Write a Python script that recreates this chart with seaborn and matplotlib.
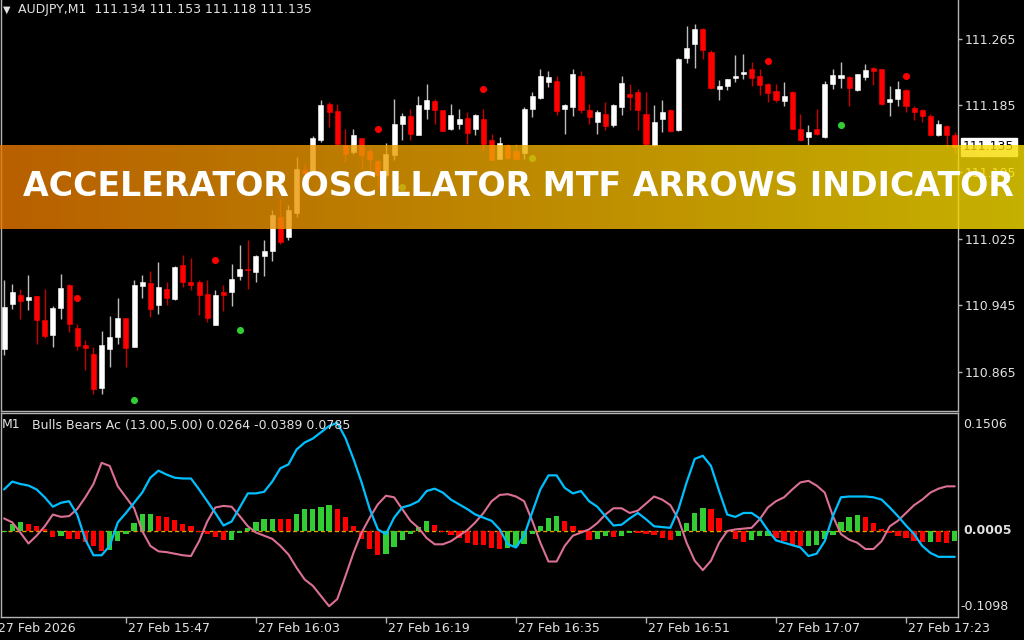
import numpy as np
import pandas as pd
import matplotlib
matplotlib.use('Agg')
import matplotlib.pyplot as plt
import matplotlib.transforms as mtransforms
from matplotlib.colors import LinearSegmentedColormap
import seaborn as sns

# ---- price candles (AUDJPY M1, bar 0 = 15:32) ----
opens = [110.893, 110.947, 110.958, 110.952, 110.956, 110.927, 110.909, 110.942, 110.969, 110.918,
         110.898, 110.887, 110.846, 110.893, 110.907, 110.930, 110.895, 110.968, 110.972, 110.945,
         110.965, 110.953, 110.993, 110.973, 110.973, 110.959, 110.921, 110.961, 110.961, 110.980,
         110.989, 110.985, 111.004, 111.010, 111.051, 111.027, 111.056, 111.107, 111.106, 111.143,
         111.186, 111.178, 111.137, 111.129, 111.146, 111.130, 111.118, 111.101, 111.125, 111.163,
         111.172, 111.149, 111.181, 111.190, 111.179, 111.156, 111.163, 111.170, 111.156, 111.168,
         111.143, 111.121, 111.137, 111.130, 111.128, 111.180, 111.194, 111.213, 111.214, 111.180,
         111.183, 111.220, 111.179, 111.165, 111.175, 111.161, 111.183, 111.199, 111.201, 111.175,
         111.137, 111.168, 111.179, 111.155, 111.242, 111.258, 111.277, 111.249, 111.204, 111.208,
         111.218, 111.223, 111.228, 111.220, 111.211, 111.202, 111.190, 111.201, 111.156, 111.147,
         111.157, 111.147, 111.210, 111.218, 111.219, 111.203, 111.219, 111.230, 111.228, 111.189,
         111.193, 111.203, 111.182, 111.179, 111.172, 111.149, 111.160, 111.149]
highs = [110.975, 110.971, 110.965, 110.982, 110.956, 110.965, 110.944, 110.983, 110.971, 110.923,
         110.903, 110.895, 110.914, 110.932, 110.954, 110.930, 110.975, 110.982, 110.986, 110.997,
         110.973, 110.992, 111.005, 111.002, 110.975, 110.976, 110.963, 110.970, 110.995, 111.017,
         111.023, 111.005, 111.023, 111.059, 111.073, 111.065, 111.123, 111.115, 111.148, 111.191,
         111.189, 111.187, 111.157, 111.156, 111.146, 111.133, 111.119, 111.140, 111.192, 111.176,
         111.180, 111.196, 111.210, 111.193, 111.179, 111.187, 111.181, 111.177, 111.175, 111.180,
         111.151, 111.147, 111.139, 111.139, 111.183, 111.201, 111.229, 111.226, 111.220, 111.187,
         111.228, 111.226, 111.187, 111.179, 111.189, 111.186, 111.220, 111.210, 111.204, 111.201,
         111.185, 111.191, 111.181, 111.242, 111.280, 111.283, 111.278, 111.251, 111.215, 111.217,
         111.245, 111.247, 111.237, 111.229, 111.212, 111.210, 111.213, 111.202, 111.175, 111.161,
         111.181, 111.214, 111.228, 111.237, 111.220, 111.223, 111.235, 111.231, 111.229, 111.208,
         111.214, 111.204, 111.184, 111.180, 111.175, 111.167, 111.161, 111.153]
lows = [110.885, 110.941, 110.929, 110.939, 110.899, 110.906, 110.895, 110.929, 110.913, 110.891,
        110.868, 110.839, 110.839, 110.871, 110.899, 110.871, 110.895, 110.954, 110.931, 110.935,
        110.945, 110.951, 110.967, 110.964, 110.933, 110.925, 110.921, 110.938, 110.944, 110.975,
        110.965, 110.973, 110.980, 110.998, 111.019, 111.023, 111.051, 111.101, 111.105, 111.141,
        111.159, 111.137, 111.117, 111.127, 111.109, 111.109, 111.087, 111.099, 111.119, 111.143,
        111.143, 111.149, 111.169, 111.163, 111.154, 111.155, 111.157, 111.139, 111.149, 111.131,
        111.119, 111.120, 111.120, 111.120, 111.121, 111.171, 111.193, 111.207, 111.173, 111.151,
        111.172, 111.176, 111.163, 111.151, 111.155, 111.159, 111.173, 111.179, 111.155, 111.137,
        111.136, 111.153, 111.153, 111.154, 111.236, 111.230, 111.241, 111.205, 111.191, 111.203,
        111.213, 111.217, 111.208, 111.197, 111.189, 111.189, 111.184, 111.156, 111.142, 111.137,
        111.149, 111.146, 111.205, 111.206, 111.184, 111.202, 111.215, 111.209, 111.185, 111.172,
        111.184, 111.177, 111.167, 111.165, 111.148, 111.148, 111.135, 111.127]
closes = [110.943, 110.961, 110.950, 110.955, 110.928, 110.908, 110.942, 110.966, 110.923, 110.896,
          110.894, 110.845, 110.898, 110.907, 110.930, 110.894, 110.970, 110.973, 110.941, 110.967,
          110.954, 110.991, 110.973, 110.969, 110.958, 110.930, 110.958, 110.958, 110.977, 110.989,
          110.987, 111.004, 111.010, 111.053, 111.021, 111.059, 111.108, 111.104, 111.146, 111.185,
          111.177, 111.139, 111.127, 111.149, 111.125, 111.121, 111.101, 111.127, 111.162, 111.172,
          111.151, 111.185, 111.191, 111.179, 111.154, 111.173, 111.169, 111.152, 111.173, 111.139,
          111.119, 111.140, 111.122, 111.121, 111.180, 111.196, 111.220, 111.219, 111.178, 111.185,
          111.222, 111.179, 111.171, 111.177, 111.160, 111.185, 111.212, 111.195, 111.179, 111.139,
          111.165, 111.177, 111.154, 111.241, 111.254, 111.277, 111.251, 111.206, 111.208, 111.216,
          111.220, 111.225, 111.218, 111.209, 111.200, 111.191, 111.196, 111.157, 111.143, 111.153,
          111.150, 111.210, 111.221, 111.221, 111.206, 111.222, 111.227, 111.226, 111.186, 111.193,
          111.204, 111.184, 111.177, 111.172, 111.149, 111.162, 111.149, 111.135]

# arrow dots of the indicator
red_dot_bar = [9, 26, 46, 59, 94, 111]
red_dot_price = [110.954, 110.999, 111.156, 111.204, 111.238, 111.220]
green_dot_bar = [16, 29, 49, 65, 103]
green_dot_price = [110.831, 110.915, 111.087, 111.122, 111.161]

# ---- lower window: Bulls Bears Ac ----
ac_hist = [-0.001, 0.0085, 0.0115, 0.0094, 0.0064, 0.003, -0.0072, -0.0064, -0.0098, -0.0106,
           -0.014, -0.019, -0.0256, -0.0243, -0.0128, -0.0034, 0.0098, 0.022, 0.0222, 0.019,
           0.018, 0.014, 0.0085, 0.0064, -0.001, -0.0043, -0.0072, -0.0115, -0.011, -0.003,
           0.0043, 0.0115, 0.015, 0.0158, 0.0155, 0.0152, 0.0213, 0.0277, 0.0285, 0.031,
           0.0336, 0.0277, 0.018, 0.0064, -0.0106, -0.0234, -0.031, -0.030, -0.0205, -0.0115,
           -0.0043, 0.005, 0.0128, 0.0077, -0.001, -0.0055, -0.0085, -0.0158, -0.018, -0.0182,
           -0.022, -0.0234, -0.0213, -0.019, -0.017, -0.0043, 0.0064, 0.016, 0.019, 0.0128,
           0.0064, 0.001, -0.0115, -0.0098, -0.0064, -0.0072, -0.0064, -0.002, -0.0025, -0.0043,
           -0.005, -0.0085, -0.0115, -0.0064, 0.0106, 0.0234, 0.0298, 0.0285, 0.017, -0.0005,
           -0.0098, -0.014, -0.0115, -0.0064, -0.006, -0.0085, -0.0128, -0.0175, -0.0195, -0.019,
           -0.0175, -0.0106, -0.005, 0.0115, 0.018, 0.021, 0.018, 0.0106, 0.002, -0.002,
           -0.0064, -0.0085, -0.0128, -0.0145, -0.014, -0.0142, -0.0158, -0.0128]
bulls_line = [0.053, 0.063, 0.060, 0.058, 0.053, 0.043, 0.031, 0.036, 0.038, 0.021,
              -0.011, -0.031, -0.031, -0.019, 0.011, 0.023, 0.036, 0.049, 0.068, 0.077,
              0.072, 0.068, 0.067, 0.067, 0.053, 0.038, 0.023, 0.007, 0.012, 0.030,
              0.048, 0.048, 0.050, 0.063, 0.080, 0.085, 0.104, 0.113, 0.118, 0.126,
              0.134, 0.138, 0.119, 0.092, 0.062, 0.028, 0.002, -0.004, 0.017, 0.030,
              0.033, 0.038, 0.051, 0.054, 0.049, 0.040, 0.034, 0.028, 0.021, 0.017,
              0.013, 0.002, -0.017, -0.021, -0.006, 0.024, 0.053, 0.071, 0.071, 0.055,
              0.048, 0.051, 0.038, 0.031, 0.019, 0.007, 0.008, 0.016, 0.023, 0.015,
              0.006, 0.005, 0.004, 0.028, 0.062, 0.092, 0.096, 0.083, 0.051, 0.021,
              0.018, 0.023, 0.023, 0.016, 0.001, -0.012, -0.015, -0.018, -0.021, -0.032,
              -0.029, -0.013, 0.019, 0.043, 0.044, 0.044, 0.044, 0.043, 0.040, 0.030,
              0.019, 0.007, -0.004, -0.019, -0.028, -0.033, -0.033, -0.033]
bears_line = [0.016, 0.011, -0.002, -0.016, -0.006, 0.006, 0.021, 0.018, 0.019, 0.028,
              0.043, 0.060, 0.087, 0.083, 0.057, 0.043, 0.029, 0.000, -0.019, -0.026,
              -0.027, -0.029, -0.031, -0.032, -0.013, 0.012, 0.030, 0.032, 0.031, 0.019,
              0.006, -0.002, -0.006, -0.010, -0.019, -0.030, -0.047, -0.062, -0.070, -0.083,
              -0.096, -0.087, -0.058, -0.028, -0.002, 0.017, 0.034, 0.045, 0.043, 0.028,
              0.013, 0.004, -0.009, -0.017, -0.017, -0.013, -0.006, 0.001, 0.011, 0.023,
              0.038, 0.046, 0.047, 0.044, 0.038, 0.013, -0.015, -0.039, -0.039, -0.019,
              -0.006, -0.002, 0.002, 0.010, 0.021, 0.029, 0.029, 0.023, 0.026, 0.035,
              0.044, 0.040, 0.033, 0.015, -0.015, -0.038, -0.050, -0.038, -0.015, 0.000,
              0.002, 0.003, 0.004, 0.015, 0.030, 0.038, 0.043, 0.053, 0.062, 0.064,
              0.058, 0.049, 0.019, -0.004, -0.011, -0.015, -0.023, -0.023, -0.013, 0.006,
              0.013, 0.023, 0.033, 0.040, 0.049, 0.054, 0.057, 0.057]

price_ticks = [110.865, 110.945, 111.025, 111.105, 111.185, 111.265]
time_bars = [-1, 15, 31, 47, 63, 79, 95, 111]
time_labels = ['27 Feb 2026', '27 Feb 15:47', '27 Feb 16:03', '27 Feb 16:19',
               '27 Feb 16:35', '27 Feb 16:51', '27 Feb 17:07', '27 Feb 17:23']
osc_labels = ['0.1506', '0.0005', '-0.1098']
last_price = 111.135
title = 'ACCELERATOR OSCILLATOR MTF ARROWS INDICATOR'

sns.set_style('dark', {'axes.facecolor': 'black', 'figure.facecolor': 'black',
                       'axes.edgecolor': '#b4b4b4'})
plt.rcParams['font.family'] = ['DejaVu Sans']

txt = '#e2e2e2'
W, H = 1024, 640

fig = plt.figure(figsize=(10.24, 6.4), dpi=100, facecolor='black')
ax1 = fig.add_axes([1 / W, 1 - 411 / H, 957 / W, 411 / H], facecolor='black')
ax2 = fig.add_axes([1 / W, 1 - 617 / H, 957 / W, 204 / H], facecolor='black')

# candles
cdl = pd.DataFrame({'open': opens, 'high': highs, 'low': lows, 'close': closes})
cdl['bar'] = np.arange(len(cdl))
bull = (cdl['close'] >= cdl['open']).values
body_lo = cdl[['open', 'close']].min(axis=1)
body_h = (cdl['close'] - cdl['open']).abs().clip(lower=0.0011)
ax1.vlines(cdl['bar'], cdl['low'], cdl['high'],
           colors=np.where(bull, '#bdbdbd', '#c80000'), linewidth=1, zorder=2)
ax1.bar(cdl['bar'], body_h, bottom=body_lo, width=0.62,
        color=np.where(bull, 'white', '#ff0000'), edgecolor=np.where(bull, 'white', '#ff0000'),
        linewidth=0.4, zorder=3)
ax1.scatter(red_dot_bar, red_dot_price, s=26, color='#ff0000', linewidths=0, zorder=4)
ax1.scatter(green_dot_bar, green_dot_price, s=26, color='#32cd32', linewidths=0, zorder=4)

xlim = (-0.38, 117.4)
ax1.set_xlim(*xlim)
ax1.set_ylim(110.8183, 111.3112)
ax1.set_xticks([])
ax1.yaxis.tick_right()
ax1.set_yticks(price_ticks)
ax1.set_yticklabels([f'{v:.3f}' for v in price_ticks])
ax1.tick_params(axis='y', right=True, left=False, length=3, width=1, color='#b4b4b4',
                labelcolor=txt, labelsize=9, pad=2)
for s in ['left', 'right', 'bottom']:
    ax1.spines[s].set_color('#b4b4b4')
    ax1.spines[s].set_linewidth(1)
ax1.spines['top'].set_visible(False)

blend1 = mtransforms.blended_transform_factory(ax1.transAxes, ax1.transData)
ax1.annotate(f'{last_price:.3f}', xy=(1, last_price), xycoords=blend1, xytext=(3.6, 0),
             textcoords='offset points', va='center', ha='left', fontsize=9, color='black',
             bbox=dict(boxstyle='square,pad=0.18', fc='white', ec='white'),
             annotation_clip=False, zorder=6)

# oscillator window
bars = pd.DataFrame({'bar': np.arange(len(ac_hist)), 'ac': ac_hist,
                     'bulls': bulls_line, 'bears': bears_line})
bars['dir'] = np.where(bars['ac'].diff().fillna(1) > 0, 'up', 'down')

ax2.axhline(0, color='#e0a000', linewidth=1, linestyle=(0, (3, 2)), zorder=0.5)
sns.barplot(data=bars, x='bar', y='ac', hue='dir', palette={'up': '#32cd32', 'down': '#ff0000'},
            dodge=False, native_scale=True, width=0.65, saturation=1, errorbar=None,
            legend=False, linewidth=0, edgecolor='none', ax=ax2)
sns.lineplot(data=bars, x='bar', y='bears', color='#db7093', linewidth=1.5, ax=ax2, zorder=3)
sns.lineplot(data=bars, x='bar', y='bulls', color='#00bfff', linewidth=1.6, ax=ax2, zorder=4)

ax2.set_xlim(*xlim)
ax2.set_ylim(-0.1098, 0.1506)
ax2.set_xlabel('')
ax2.set_ylabel('')
ax2.set_yticks([])
ax2.set_xticks(time_bars[1:])
ax2.set_xticklabels([])
ax2.tick_params(axis='x', bottom=True, length=4, width=1, color='#b4b4b4')
for s in ['left', 'right', 'bottom', 'top']:
    ax2.spines[s].set_color('#b4b4b4')
    ax2.spines[s].set_linewidth(1)

for b, lab in zip(time_bars, time_labels):
    ax2.annotate(lab, xy=(b, 0), xycoords=('data', 'axes fraction'), xytext=(1.5, -8),
                 textcoords='offset points', ha='left', va='center', fontsize=9, color=txt,
                 annotation_clip=False)

ax2.annotate(osc_labels[0], xy=(1, 1), xycoords='axes fraction', xytext=(3.6, -8),
             textcoords='offset points', ha='left', va='center', fontsize=9, color=txt)
ax2.annotate(osc_labels[1], xy=(1, 0.0005), xycoords=('axes fraction', 'data'), xytext=(3.6, 0),
             textcoords='offset points', ha='left', va='center', fontsize=9, color=txt,
             fontweight='bold')
ax2.annotate(osc_labels[2], xy=(1, 0), xycoords='axes fraction', xytext=(1.5, 7.2),
             textcoords='offset points', ha='left', va='center', fontsize=9, color=txt)

# window captions
fig.text(3 / W, 1 - 10 / H, '\u25bc', fontsize=7, color=txt, va='center', ha='left')
fig.text(18 / W, 1 - 10 / H, 'AUDJPY,M1  111.134 111.153 111.118 111.135',
         fontsize=9, color=txt, va='center', ha='left')
fig.text(2 / W, 1 - 425 / H, 'M1', fontsize=9, color=txt, va='center', ha='left')
fig.text(32 / W, 1 - 425 / H, 'Bulls Bears Ac (13.00,5.00) 0.0264 -0.0389 0.0785',
         fontsize=9, color=txt, va='center', ha='left')

# banner across the chart
axb = fig.add_axes([0, 1 - 229 / H, 1, 84 / H], zorder=10)
cmap = LinearSegmentedColormap.from_list('banner', ['#e77800', '#eeac00', '#f8de00'])
axb.imshow(np.linspace(0, 1, 256)[None, :], cmap=cmap, aspect='auto', alpha=0.8,
           extent=(0, 1, 0, 1))
axb.set_xlim(0, 1)
axb.set_ylim(0, 1)
axb.axis('off')
banner = axb.text(518.5 / W, 0.5, title, ha='center', va='center', color='white',
                  fontsize=27, fontweight='bold', transform=axb.transAxes)
fig.canvas.draw()
w = banner.get_window_extent(fig.canvas.get_renderer()).width
banner.set_fontsize(27 * 993 / w)

fig.savefig('out.png', dpi=100, facecolor='black')
